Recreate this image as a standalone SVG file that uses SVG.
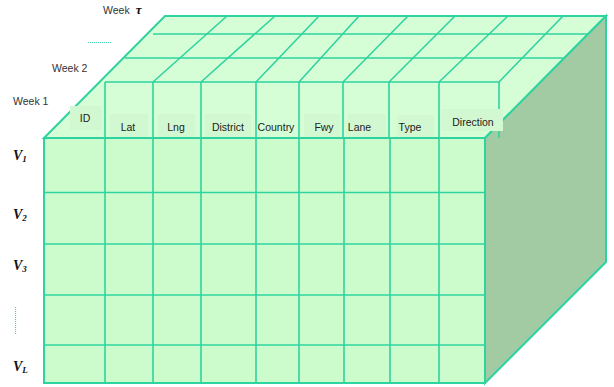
<svg xmlns="http://www.w3.org/2000/svg" width="614" height="387" viewBox="0 0 614 387">
<style>
.ln{stroke:#2fd3a0;stroke-width:1.6;fill:none}
.edge{stroke:#2fd3a0;stroke-width:2;}
.lbl{font-family:"Liberation Sans",Arial,sans-serif;font-size:10.5px;fill:#222;text-anchor:middle}
.wk{font-family:"Liberation Sans",Arial,sans-serif;font-size:10.5px;fill:#333}
.box{fill:#d1f8d1;stroke:none}
.v{font-family:"Liberation Serif","Times New Roman",serif;font-weight:bold;font-style:italic;font-size:14px;fill:#111}
.sub{font-size:9px}
.dot{stroke:#3fd3b0;stroke-width:1.2;stroke-dasharray:1 1;fill:none}
</style>
<rect width="614" height="387" fill="#ffffff"/>
<g id="top-face">
<polygon class="edge" points="44,138 165,16 606,16 485,138" fill="#d6fed6"/>
</g>
<g id="right-face">
<polygon class="edge" points="485,138 606,16 606,262 485,383" fill="#a3cba3"/>
</g>
<g id="front-face">
<rect class="edge" x="44" y="138" width="441" height="245" fill="#ccfccc"/>
</g>
<g id="connectors">
<path class="ln" d="M153,34H588 M125,58H563 M105,82H499"/>
<path class="ln" d="M105,82V138 M153,82V138 M201,82V138 M256,82V138 M299,82V138 M343,82V138 M389,82V138 M439,82V138 M499,82V138"/>
<path class="ln" d="M153,82L227,16 M201,82L275,16 M256,82L319,16 M299,82L359,16 M343,82L408,16 M389,82L455,16 M439,82L508,16 M499,82L563,16"/>
<path class="ln" d="M105,138V383 M153,138V383 M201,138V383 M256,138V383 M299,138V383 M344,138V383 M390,138V383 M439,138V383"/>
<path class="ln" d="M44,192.5H484 M44,244H484 M44,295H484 M44,345H484"/>
</g>
<g id="labels">
<rect class="box" x="70" y="106" width="32" height="24"/>
<rect class="box" x="110" y="114" width="38" height="23"/>
<rect class="box" x="158" y="114" width="37" height="23"/>
<rect class="box" x="205" y="114" width="46" height="23"/>
<rect class="box" x="304" y="114" width="36" height="23"/>
<rect class="box" x="348" y="114" width="38" height="23"/>
<rect class="box" x="397" y="115" width="37" height="22"/>
<rect class="box" x="441" y="109" width="62" height="22"/>
<text class="lbl" x="85" y="122">ID</text>
<text class="lbl" x="128" y="130.5">Lat</text>
<text class="lbl" x="176" y="130.5">Lng</text>
<text class="lbl" x="228" y="130.5">District</text>
<text class="lbl" x="276" y="130.5">Country</text>
<text class="lbl" x="324" y="130.5">Fwy</text>
<text class="lbl" x="359.5" y="130.5">Lane</text>
<text class="lbl" x="410" y="130.5">Type</text>
<text class="lbl" x="473" y="125.5">Direction</text>
</g>
<g id="weeks">
<text class="wk" x="103" y="14">Week<tspan dx="6" font-family="Liberation Serif,serif" font-weight="bold" font-style="italic" font-size="13px" fill="#111">τ</tspan></text>
<line class="dot" x1="88" y1="42.5" x2="112" y2="42.5"/>
<text class="wk" x="52" y="72">Week 2</text>
<text class="wk" x="13" y="105">Week 1</text>
</g>
<g id="rows">
<text class="v" x="13" y="160">V<tspan class="sub" dy="2">1</tspan></text>
<text class="v" x="13" y="219">V<tspan class="sub" dy="2">2</tspan></text>
<text class="v" x="13" y="270">V<tspan class="sub" dy="2">3</tspan></text>
<line class="dot" x1="15.5" y1="307" x2="15.5" y2="335"/>
<text class="v" x="13" y="371">V<tspan class="sub" dy="2">L</tspan></text>
</g>
</svg>
